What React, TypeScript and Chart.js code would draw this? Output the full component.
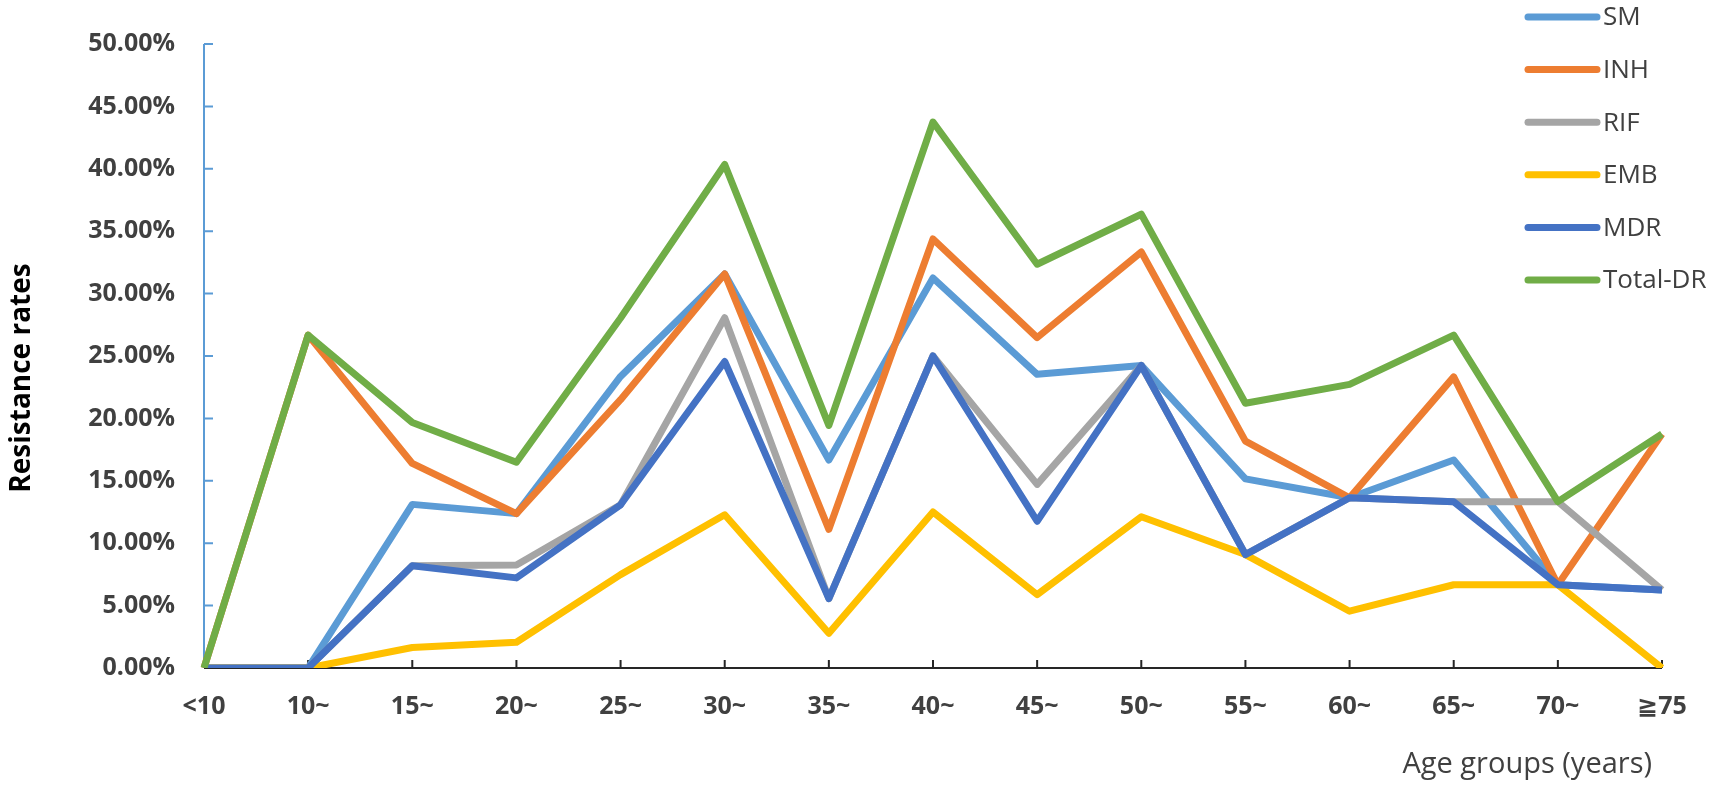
import React, { useEffect, useRef } from 'react';
import { Chart, registerables } from 'chart.js';

Chart.register(...registerables);

// age groups on the x axis
const ageGroups = ['<10', '10~', '15~', '20~', '25~', '30~', '35~', '40~', '45~', '50~', '55~', '60~', '65~', '70~', '≧75'];

// resistance rates in percent
const smRates = [0, 0, 13.11, 12.37, 23.36, 31.58, 16.67, 31.25, 23.53, 24.24, 15.15, 13.64, 16.67, 6.67, 6.25];
const inhRates = [0, 26.67, 16.39, 12.37, 21.5, 31.58, 11.11, 34.38, 26.47, 33.33, 18.18, 13.64, 23.33, 6.67, 18.75];
const rifRates = [0, 0, 8.2, 8.25, 13.08, 28.07, 5.56, 25.0, 14.71, 24.24, 9.09, 13.64, 13.33, 13.33, 6.25];
const embRates = [0, 0, 1.64, 2.06, 7.48, 12.28, 2.78, 12.5, 5.88, 12.12, 9.09, 4.55, 6.67, 6.67, 0];
const mdrRates = [0, 0, 8.2, 7.22, 13.08, 24.56, 5.56, 25.0, 11.76, 24.24, 9.09, 13.64, 13.33, 6.67, 6.25];
const totalRates = [0, 26.67, 19.67, 16.49, 28.04, 40.35, 19.44, 43.75, 32.35, 36.36, 21.21, 22.73, 26.67, 13.33, 18.75];

const seriesNames = ['SM', 'INH', 'RIF', 'EMB', 'MDR', 'Total-DR'];
const seriesColors = ['#5B9BD5', '#ED7D31', '#A5A5A5', '#FFC000', '#4472C4', '#70AD47'];

const FONT = "'Open Sans', 'DejaVu Sans', sans-serif";
const TEXT = '#404040';

// axis lines, inward tick marks, titles and the legend in the top right corner
const decorPlugin = {
  id: 'decor',
  beforeDatasetsDraw(chart: any) {
    const { ctx, chartArea } = chart;
    const xs = chart.scales.x;
    const ys = chart.scales.y;
    ctx.save();
    ctx.lineWidth = 2;
    ctx.strokeStyle = '#5B9BD5';
    ctx.beginPath();
    ctx.moveTo(chartArea.left, chartArea.top);
    ctx.lineTo(chartArea.left, chartArea.bottom);
    ys.ticks.forEach((t: any) => {
      const py = ys.getPixelForValue(t.value);
      ctx.moveTo(chartArea.left, py);
      ctx.lineTo(chartArea.left + 9, py);
    });
    ctx.stroke();

    ctx.strokeStyle = '#262626';
    ctx.beginPath();
    ctx.moveTo(chartArea.left, chartArea.bottom);
    ctx.lineTo(chartArea.right, chartArea.bottom);
    ageGroups.forEach((_, i) => {
      const px = xs.getPixelForValue(i);
      ctx.moveTo(px, chartArea.bottom);
      ctx.lineTo(px, chartArea.bottom - 8);
    });
    ctx.stroke();
    ctx.restore();
  },
  afterDraw(chart: any) {
    const { ctx, chartArea } = chart;
    ctx.save();

    // y title
    ctx.translate(22, 378);
    ctx.rotate(-Math.PI / 2);
    ctx.font = `bold 28px ${FONT}`;
    ctx.fillStyle = '#000';
    ctx.textAlign = 'center';
    ctx.textBaseline = 'middle';
    ctx.fillText('Resistance rates', 0, 0);
    ctx.setTransform(1, 0, 0, 1, 0, 0);

    // x title
    ctx.font = `29px ${FONT}`;
    ctx.fillStyle = TEXT;
    ctx.textAlign = 'right';
    ctx.fillText('Age groups (years)', chartArea.right - 10, 765);

    // legend
    const lx = chart.width - 185;
    ctx.font = `26px ${FONT}`;
    ctx.textAlign = 'left';
    chart.data.datasets.forEach((ds: any, i: number) => {
      const ly = 17 + i * 52.6;
      ctx.strokeStyle = ds.borderColor;
      ctx.lineWidth = 7;
      ctx.lineCap = 'round';
      ctx.beginPath();
      ctx.moveTo(lx, ly);
      ctx.lineTo(lx + 69, ly);
      ctx.stroke();
      ctx.fillStyle = TEXT;
      ctx.fillText(ds.label, lx + 75, ly + 1);
    });
    ctx.restore();
  },
};

export default function App() {
  const canvasRef = useRef<HTMLCanvasElement>(null);

  useEffect(() => {
    if (!canvasRef.current) return;
    const values = [smRates, inhRates, rifRates, embRates, mdrRates, totalRates];
    const chart = new Chart(canvasRef.current, {
      type: 'line',
      data: {
        labels: ageGroups,
        datasets: values.map((data, i) => ({
          label: seriesNames[i],
          data,
          borderColor: seriesColors[i],
          backgroundColor: seriesColors[i],
          borderWidth: 7,
          pointRadius: 0,
          tension: 0,
          fill: false,
          borderJoinStyle: 'round' as const,
          order: values.length - i, // later series drawn on top, as in the original
        })),
      },
      options: {
        responsive: false,
        animation: false,
        devicePixelRatio: 1,
        layout: { padding: { top: 33, right: 51, bottom: 0, left: 0 } },
        plugins: {
          legend: { display: false },
          tooltip: { enabled: false },
        },
        scales: {
          x: {
            offset: false,
            grid: { display: false, drawTicks: false },
            border: { display: false },
            ticks: {
              autoSkip: false,
              maxRotation: 0,
              padding: 24,
              color: TEXT,
              font: { family: FONT, size: 25, weight: 'bold' },
            },
            afterFit: (scale: any) => {
              scale.height = 125;
            },
          },
          y: {
            min: 0,
            max: 50,
            grid: { display: false, drawTicks: false },
            border: { display: false },
            ticks: {
              stepSize: 5,
              padding: 29,
              color: TEXT,
              font: { family: FONT, size: 25, weight: 'bold' },
              callback: (v: any) => Number(v).toFixed(2) + '%',
            },
            afterFit: (scale: any) => {
              scale.width = 204;
            },
          },
        },
      },
      plugins: [decorPlugin],
    });
    return () => chart.destroy();
  }, []);

  return (
    <div style={{ position: 'absolute', left: 0, top: 0, width: 1713, height: 793, background: '#fff' }}>
      <canvas ref={canvasRef} width={1713} height={793} style={{ width: 1713, height: 793 }} />
    </div>
  );
}
